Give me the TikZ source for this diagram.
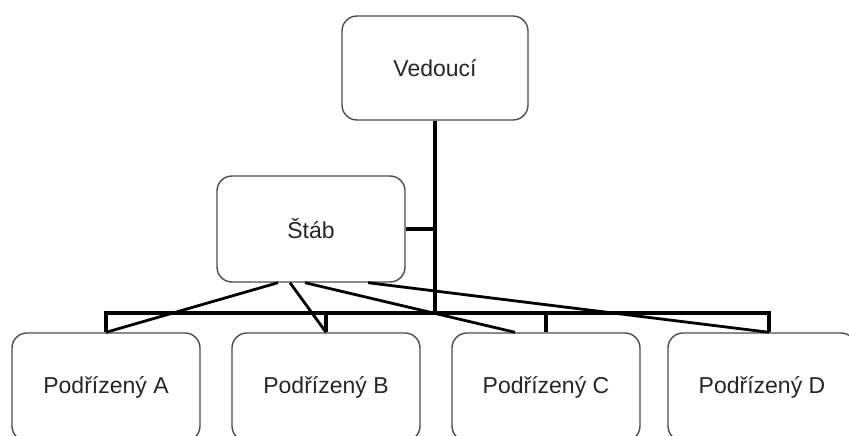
\documentclass[tikz,border=0pt]{standalone}
\usepackage{fontspec}
\setmainfont{Liberation Sans}
\begin{document}
\begin{tikzpicture}[x=1pt,y=-1pt,
  unit/.style={draw=black!70, line width=1.4pt, rounded corners=15pt, fill=white,
    minimum width=186pt, minimum height=104pt, inner sep=0pt,
    font=\fontsize{23}{27}\selectfont, text=black!85},
  trunk/.style={line width=4pt, black},
  staffline/.style={line width=2.8pt, black}]
\useasboundingbox (0,0) rectangle (849,436);
\fill[white] (0,0) rectangle (849,436);
% boxes
\node[unit] (ved) at (435,68) {Vedoucí};
\node[unit, minimum width=188pt, minimum height=106pt] (stab) at (311,229) {Štáb};
\node[unit, minimum width=188pt, minimum height=108pt] (a) at (106,387) {Podřízený A};
\node[unit, minimum width=188pt, minimum height=108pt] (b) at (326,387) {Podřízený B};
\node[unit, minimum width=188pt, minimum height=108pt] (c) at (546,387) {Podřízený C};
\node[unit, minimum width=188pt, minimum height=108pt] (d) at (762,387) {Podřízený D};
% line hierarchy
\coordinate (hub) at (435,313);
\coordinate (ta) at (106,313);
\coordinate (tb) at (326,313);
\coordinate (tc) at (546,313);
\coordinate (td) at (769,313);
\draw[trunk] (ved.south) -- (hub);
\draw[trunk] (stab.east) -- (stab.east -| hub);
\draw[trunk, line cap=rect] (ta) -- (td);
\draw[trunk] (ta) -- (a.north -| ta);
\draw[trunk] (tb) -- (b.north -| tb);
\draw[trunk] (tc) -- (c.north -| tc);
\draw[trunk] (td) -- (d.north -| td);
% staff links
\draw[staffline] ([xshift=-33pt]stab.south) -- (a.north);
\draw[staffline] ([xshift=-21pt]stab.south) -- (b.north);
\draw[staffline] ([xshift=-6pt]stab.south) -- ([xshift=-31pt]c.north);
\draw[staffline] ([xshift=57pt]stab.south) -- ([xshift=7pt]d.north);
\end{tikzpicture}
\end{document}
